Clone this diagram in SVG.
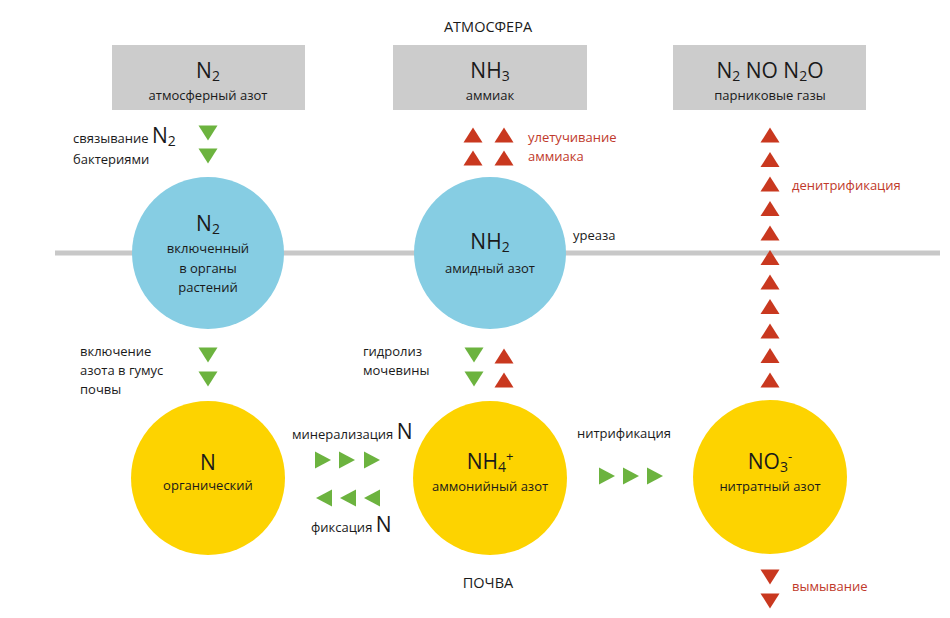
<svg xmlns="http://www.w3.org/2000/svg" width="950" height="618" viewBox="0 0 950 618">
<defs>
<style>
text{font-family:"Open Sans","Liberation Sans",sans-serif;fill:#1a1a1a}
.box{fill:#cccccc}
.blue{fill:#86cde3}
.yel{fill:#fdd300}
.g{fill:#6cb33f}
.r{fill:#c9381f}
.big{font-size:21px}
.sm{font-size:13px}
.lbl{font-size:14.5px}
.red{fill:#c0392b}
.mid{text-anchor:middle}
.sub{font-size:14px}
</style>
<polygon id="dn" points="-9.5,-7.5 9.5,-7.5 0,7.5"/>
<polygon id="up" points="-9.5,7.5 9.5,7.5 0,-7.5"/>
<polygon id="rt" points="-8,-8.5 8,0 -8,8.5"/>
<polygon id="lt" points="8,-8.5 -8,0 8,8.5"/>
</defs>
<rect width="950" height="618" fill="#ffffff"/>
<rect x="55" y="250.5" width="885" height="5" fill="#c8c8c8"/>
<text class="lbl mid" x="488" y="32">АТМОСФЕРА</text>
<text class="lbl mid" x="488" y="588">ПОЧВА</text>
<g id="box-n2">
<rect class="box" x="112" y="45" width="193" height="65"/>
<text class="big mid" x="208" y="78">N<tspan class="sub" dy="3">2</tspan></text>
<text class="sm mid" x="208" y="100">атмосферный азот</text>
</g>
<g id="box-nh3">
<rect class="box" x="393" y="45" width="194" height="65"/>
<text class="big mid" x="490" y="78">NH<tspan class="sub" dy="3">3</tspan></text>
<text class="sm mid" x="490" y="100">аммиак</text>
</g>
<g id="box-gases">
<rect class="box" x="673" y="45" width="193" height="65"/>
<text class="big mid" x="770" y="78">N<tspan class="sub" dy="3">2</tspan><tspan dy="-3"> NO N</tspan><tspan class="sub" dy="3">2</tspan><tspan dy="-3">O</tspan></text>
<text class="sm mid" x="770" y="100">парниковые газы</text>
</g>
<g id="circle-plant">
<circle class="blue" cx="208" cy="253" r="76"/>
<text class="big mid" x="208" y="231">N<tspan class="sub" dy="3">2</tspan></text>
<text class="sm mid" x="208" y="253">включенный</text>
<text class="sm mid" x="208" y="273">в органы</text>
<text class="sm mid" x="208" y="292">растений</text>
</g>
<g id="circle-amide">
<circle class="blue" cx="490" cy="253" r="76"/>
<text class="big mid" x="490" y="249">NH<tspan class="sub" dy="3">2</tspan></text>
<text class="sm mid" x="490" y="273">амидный азот</text>
</g>
<g id="circle-organic">
<circle class="yel" cx="208" cy="478" r="77"/>
<text class="big mid" x="208" y="470">N</text>
<text class="sm mid" x="208" y="490">органический</text>
</g>
<g id="circle-ammonium">
<circle class="yel" cx="490" cy="478" r="77"/>
<text class="big mid" x="490" y="469">NH<tspan class="sub" dy="3">4</tspan><tspan class="sm" dy="-11">+</tspan></text>
<text class="sm mid" x="490" y="491">аммонийный азот</text>
</g>
<g id="circle-nitrate">
<circle class="yel" cx="770" cy="477" r="77"/>
<text class="big mid" x="770" y="469">NO<tspan class="sub" dy="3">3</tspan><tspan class="sm" dy="-11">-</tspan></text>
<text class="sm mid" x="770" y="491">нитратный азот</text>
</g>
<g id="connectors">
<use href="#dn" class="g" x="208" y="133"/>
<use href="#dn" class="g" x="208" y="156"/>
<use href="#up" class="r" x="473" y="135"/>
<use href="#up" class="r" x="504" y="135"/>
<use href="#up" class="r" x="473" y="158"/>
<use href="#up" class="r" x="504" y="158"/>
<use href="#up" class="r" x="770" y="135"/>
<use href="#up" class="r" x="770" y="159.5"/>
<use href="#up" class="r" x="770" y="184"/>
<use href="#up" class="r" x="770" y="208.5"/>
<use href="#up" class="r" x="770" y="233"/>
<use href="#up" class="r" x="770" y="257.5"/>
<use href="#up" class="r" x="770" y="282"/>
<use href="#up" class="r" x="770" y="306.5"/>
<use href="#up" class="r" x="770" y="331"/>
<use href="#up" class="r" x="770" y="355.5"/>
<use href="#up" class="r" x="770" y="380"/>
<use href="#dn" class="g" x="208" y="355"/>
<use href="#dn" class="g" x="208" y="379"/>
<use href="#dn" class="g" x="474" y="355"/>
<use href="#dn" class="g" x="474" y="379"/>
<use href="#up" class="r" x="504" y="356"/>
<use href="#up" class="r" x="504" y="380"/>
<use href="#rt" class="g" x="323" y="460"/>
<use href="#rt" class="g" x="347" y="460"/>
<use href="#rt" class="g" x="372" y="460"/>
<use href="#lt" class="g" x="324" y="498"/>
<use href="#lt" class="g" x="348" y="498"/>
<use href="#lt" class="g" x="372" y="498"/>
<use href="#rt" class="g" x="607" y="476"/>
<use href="#rt" class="g" x="631" y="476"/>
<use href="#rt" class="g" x="655" y="476"/>
<use href="#dn" class="r" x="770" y="577"/>
<use href="#dn" class="r" x="770" y="601"/>
</g>
<g id="labels">
<text class="sm" x="73" y="143">связывание <tspan class="big">N</tspan><tspan class="sub" dy="3">2</tspan></text>
<text class="sm" x="73" y="164">бактериями</text>
<text class="sm red" x="528" y="142">улетучивание</text>
<text class="sm red" x="528" y="161">аммиака</text>
<text class="sm red" x="792" y="190">денитрификация</text>
<text class="sm" x="573" y="240">уреаза</text>
<text class="sm" x="80" y="356">включение</text>
<text class="sm" x="80" y="375">азота в гумус</text>
<text class="sm" x="80" y="394">почвы</text>
<text class="sm" x="363" y="356">гидролиз</text>
<text class="sm" x="363" y="375">мочевины</text>
<text class="sm" x="292" y="439">минерализация <tspan class="big">N</tspan></text>
<text class="sm" x="311" y="532">фиксация <tspan class="big">N</tspan></text>
<text class="sm" x="577" y="438">нитрификация</text>
<text class="sm red" x="792" y="591">вымывание</text>
</g>
</svg>
